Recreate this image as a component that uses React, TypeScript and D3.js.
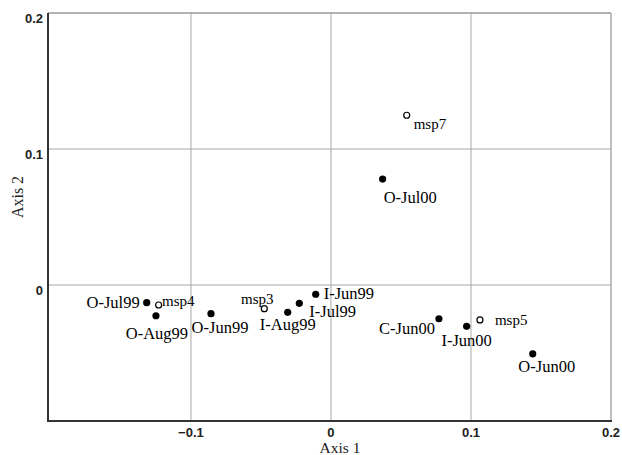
import React from 'react';
import * as d3 from 'd3';

// sample scores (filled dots)
const sampleNames = ['O-Jul99', 'O-Aug99', 'O-Jun99', 'I-Aug99', 'I-Jul99', 'I-Jun99', 'O-Jul00', 'C-Jun00', 'I-Jun00', 'O-Jun00'];
const sampleX = [-0.1316, -0.125, -0.0857, -0.0309, -0.0226, -0.0109, 0.0369, 0.0771, 0.0969, 0.1441];
const sampleY = [-0.013, -0.0226, -0.0211, -0.0201, -0.0135, -0.0068, 0.0779, -0.0248, -0.0304, -0.0506];

// species scores (open circles)
const speciesNames = ['msp4', 'msp3', 'msp7', 'msp5'];
const speciesX = [-0.1231, -0.0476, 0.0541, 0.1064];
const speciesY = [-0.0147, -0.0174, 0.1248, -0.0257];

const xTicks = [-0.1, 0, 0.1, 0.2];
const yTicks = [0, 0.1, 0.2];

// label placement next to each point: [dx, dy, anchor]
const sampleLabelPos: [number, number, string][] = [
	[-7, 0, 'end'],
	[1, 17, 'middle'],
	[9, 14, 'middle'],
	[0, 12, 'middle'],
	[10, 8, 'start'],
	[8, -1, 'start'],
	[1, 18, 'start'],
	[-4, 9, 'end'],
	[0, 14, 'middle'],
	[14, 12, 'middle']
];
const speciesLabelPos: [number, number, string][] = [
	[3.5, -4, 'start'],
	[-7, -10, 'middle'],
	[7, 8, 'start'],
	[15, 0, 'start']
];

const W = 622;
const H = 455;
const left = 48;
const right = 611;
const top = 13;
const bottom = 421;

export default function App() {
	const x = d3.scaleLinear().domain([-0.2021, 0.2]).range([left, right]);
	const y = d3.scaleLinear().domain([-0.1, 0.2]).range([bottom, top]);
	const fmt = (d: number) => (d === 0 ? '0' : d3.format('.1f')(d));
	const serif = 'Liberation Serif, Times New Roman, serif';
	const sans = 'Liberation Sans, Arial, sans-serif';

	return (
		<svg width={W} height={H} style={{ position: 'absolute', left: 0, top: 0, background: '#fff' }}>
			{/* grid */}
			{xTicks.slice(0, 3).map(t => (
				<line key={'gx' + t} x1={x(t)} x2={x(t)} y1={top} y2={bottom} stroke="#a8a8a8" strokeWidth={1} />
			))}
			{yTicks.slice(0, 2).map(t => (
				<line key={'gy' + t} x1={left} x2={right} y1={y(t)} y2={y(t)} stroke="#a8a8a8" strokeWidth={1} />
			))}
			{/* top & right border */}
			<line x1={left} x2={right} y1={top} y2={top} stroke="#999" strokeWidth={1.5} />
			<line x1={right} x2={right} y1={top} y2={bottom} stroke="#aaa" strokeWidth={1.5} />
			{/* axes */}
			<line x1={left} x2={left} y1={top} y2={bottom + 1} stroke="#333" strokeWidth={2} />
			<line x1={left - 1} x2={right + 1} y1={bottom} y2={bottom} stroke="#333" strokeWidth={2} />

			{xTicks.map(t => (
				<text key={'tx' + t} x={x(t)} y={437} textAnchor="middle" fontFamily={sans} fontWeight="bold" fontSize={13} fill="#222">
					{fmt(t)}
				</text>
			))}
			{yTicks.map(t => (
				<text key={'ty' + t} x={43} y={y(t) + 10} textAnchor="end" fontFamily={sans} fontWeight="bold" fontSize={13} fill="#222">
					{fmt(t)}
				</text>
			))}

			<text x={340} y={453} textAnchor="middle" fontFamily={serif} fontSize={15.5} fill="#222">
				Axis 1
			</text>
			<text transform="translate(23,197) rotate(-90)" textAnchor="middle" fontFamily={serif} fontSize={16} fill="#222">
				Axis 2
			</text>

			{/* samples */}
			{sampleNames.map((n, i) => (
				<g key={n}>
					<circle cx={x(sampleX[i])} cy={y(sampleY[i])} r={3.6} fill="#000" />
					<text
						x={x(sampleX[i]) + sampleLabelPos[i][0]}
						y={y(sampleY[i]) + sampleLabelPos[i][1]}
						dy="0.35em"
						textAnchor={sampleLabelPos[i][2]}
						fontFamily={serif}
						fontSize={16.5}
						fill="#000"
					>
						{n}
					</text>
				</g>
			))}

			{/* species */}
			{speciesNames.map((n, i) => (
				<g key={n}>
					<circle cx={x(speciesX[i])} cy={y(speciesY[i])} r={3} fill="#fff" stroke="#000" strokeWidth={1.2} />
					<text
						x={x(speciesX[i]) + speciesLabelPos[i][0]}
						y={y(speciesY[i]) + speciesLabelPos[i][1]}
						dy="0.35em"
						textAnchor={speciesLabelPos[i][2]}
						fontFamily={serif}
						fontSize={15}
						fill="#000"
					>
						{n}
					</text>
				</g>
			))}
		</svg>
	);
}
